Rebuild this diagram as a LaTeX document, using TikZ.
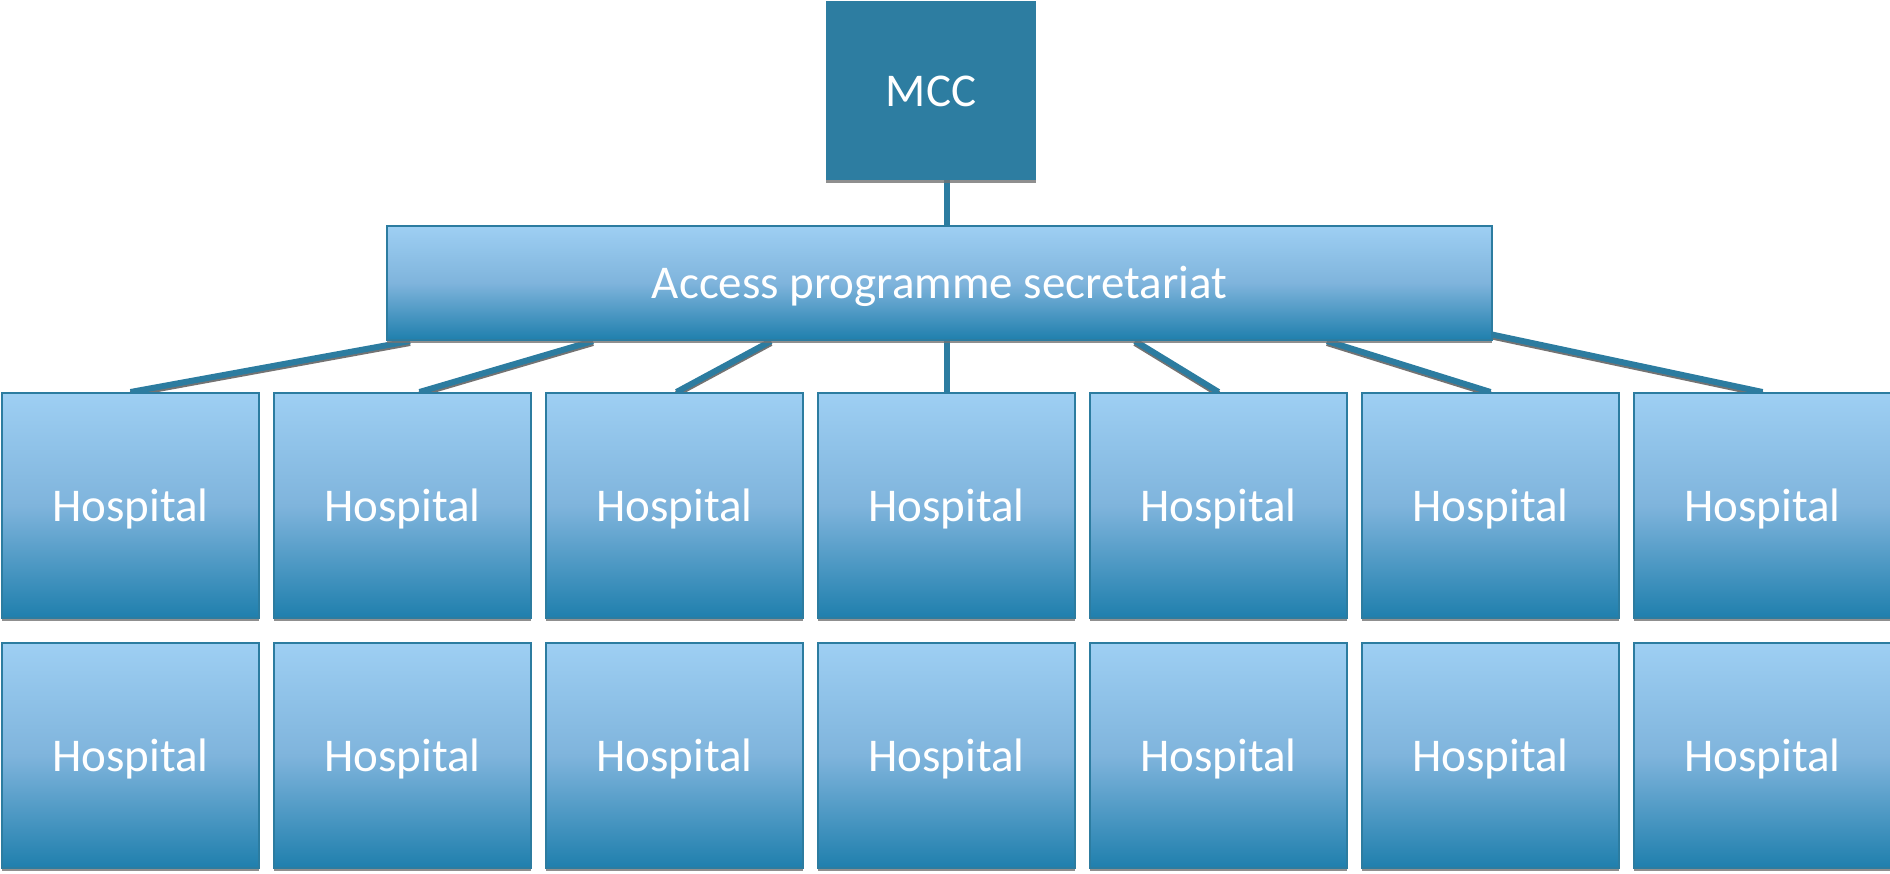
\documentclass[tikz,border=0pt]{standalone}
\usepackage{fontspec}
\setmainfont{Carlito}
\usetikzlibrary{backgrounds,shadows}
\definecolor{boxtop}{HTML}{9ECFF3}
\definecolor{boxmid}{HTML}{7FB4DC}
\definecolor{boxbot}{HTML}{1F7FAD}
\definecolor{edgeblue}{HTML}{2C7CA0}
\definecolor{chiefblue}{HTML}{2D7DA1}
\tikzset{
  lowshadow/.style={drop shadow={shadow xshift=0pt, shadow yshift=-3pt, fill=black!55, opacity=0.8}},
  label text/.style={text=white, font=\fontsize{47}{56}\selectfont,
    text height=31pt, text depth=0pt, inner sep=0pt},
  unitbox/.style={rectangle, draw=edgeblue, line width=2pt,
    top color=boxtop, bottom color=boxbot, middle color=boxmid,
    label text, lowshadow},
  hospbox/.style={unitbox, minimum width=257pt, minimum height=225pt},
  chiefbox/.style={rectangle, fill=chiefblue, draw=none, label text,
    minimum width=210pt, minimum height=179pt, lowshadow},
  link/.style={draw=edgeblue, line width=6pt,
    preaction={draw=black!55, line width=6pt, transform canvas={yshift=-2pt}}}
}
\begin{document}
\begin{tikzpicture}[x=1pt, y=-1pt]
\useasboundingbox (0,0) rectangle (1890,873);

% top of the hierarchy
\node[chiefbox] (mcc) at (931,90.5) {MCC};
\node[unitbox, minimum width=1105pt, minimum height=114pt] (sec) at (939.5,283) {Access programme secretariat};

% two rows of hospitals
\foreach \i/\cx in {1/130.5, 2/402.5, 3/674.5, 4/946.5, 5/1218.5, 6/1490.5, 7/1762.5} {
  \node[hospbox] (h\i) at (\cx,505.5) {Hospital};
  \node[hospbox] (g\i) at (\cx,755.5) {Hospital};
}

% connectors behind the boxes
\begin{scope}[on background layer]
  \draw[draw=edgeblue, line width=6pt] ([xshift=16pt]mcc.south) -- ([xshift=16pt]mcc.south |- sec.north);
  \draw[link] ([xshift=-529.5pt]sec.south) -- (h1.north);
  \draw[link] ([xshift=-346.5pt]sec.south) -- ([xshift=17pt]h2.north);
  \draw[link] ([xshift=-168.5pt]sec.south) -- ([xshift=2pt]h3.north);
  \draw[link] ([xshift=7pt]sec.south) -- (h4.north);
  \draw[link] ([xshift=195.5pt]sec.south) -- (h5.north);
  \draw[link] ([xshift=387.5pt]sec.south) -- (h6.north);
  \draw[link] ([xshift=550pt,yshift=7pt]sec.south) -- (h7.north);
\end{scope}
\end{tikzpicture}
\end{document}
